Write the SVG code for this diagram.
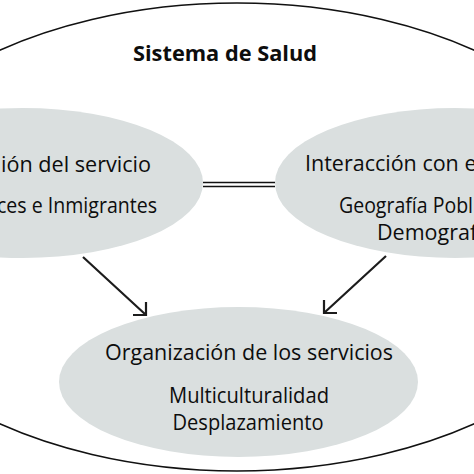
<svg xmlns="http://www.w3.org/2000/svg" width="474" height="474" viewBox="0 0 474 474">
<defs>
<style>
.node{fill:#dadfdf;stroke:none}
.t{font-family:"Open Sans","Liberation Sans",sans-serif;font-size:21.5px;fill:#0d0d0d}
.b{font-weight:bold;font-size:21px}
.c{stroke:#1c1c1c;stroke-width:2.2;fill:none}
.d{stroke:#111;stroke-width:1.6;fill:none}
</style>
</defs>
<rect width="474" height="474" fill="#fff"/>
<g id="sistema">
<ellipse cx="237" cy="237" rx="394" ry="234" fill="none" stroke="#111" stroke-width="1.6"/>
<text class="t b" x="225" y="61" text-anchor="middle" textLength="184" lengthAdjust="spacingAndGlyphs">Sistema de Salud</text>
</g>
<g id="servicio">
<ellipse class="node" cx="23" cy="183" rx="180" ry="75"/>
<text class="t" x="151" y="172" text-anchor="end" textLength="150" lengthAdjust="spacingAndGlyphs">ión del servicio</text>
<text class="t" x="157" y="213" text-anchor="end" textLength="160" lengthAdjust="spacingAndGlyphs">ces e Inmigrantes</text>
</g>
<g id="interaccion">
<ellipse class="node" cx="455" cy="183" rx="180" ry="75"/>
<text class="t" x="305" y="171">Interacción con e</text>
<text class="t" x="339" y="213" textLength="134" lengthAdjust="spacingAndGlyphs">Geografía Pobl</text>
<text class="t" x="377" y="240">Demograf</text>
</g>
<g id="organizacion">
<ellipse class="node" cx="238.5" cy="382" rx="179.5" ry="75"/>
<text class="t" x="249" y="360" text-anchor="middle" textLength="288" lengthAdjust="spacingAndGlyphs">Organización de los servicios</text>
<text class="t" x="249" y="403" text-anchor="middle" textLength="160" lengthAdjust="spacingAndGlyphs">Multiculturalidad</text>
<text class="t" x="248" y="430" text-anchor="middle" textLength="151" lengthAdjust="spacingAndGlyphs">Desplazamiento</text>
</g>
<g id="connectors">
<line class="d" x1="203" y1="182.5" x2="275" y2="182.5"/>
<line class="d" x1="203" y1="186.5" x2="275" y2="186.5"/>
<path class="c" d="M83,257 L146,315 M133,315 L146,315 L146,302"/>
<path class="c" d="M386,256 L324,313 M337,313 L324,313 L324,300"/>
</g>
</svg>
